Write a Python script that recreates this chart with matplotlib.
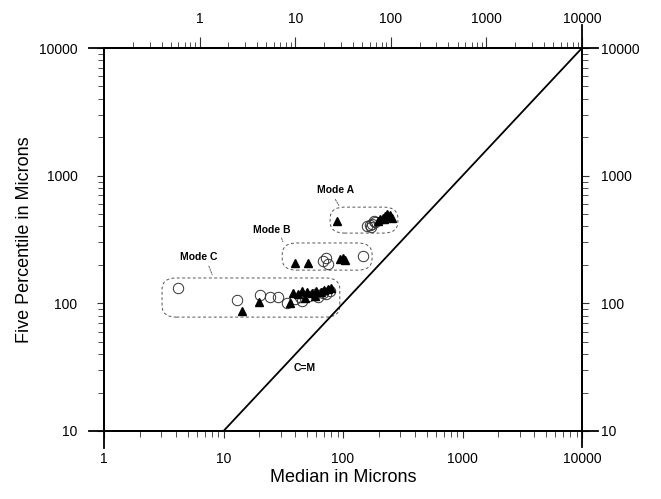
import numpy as np
import matplotlib.pyplot as plt
from matplotlib.patches import FancyBboxPatch
from matplotlib.ticker import FixedLocator, NullFormatter, LogLocator

plt.rcParams['font.family'] = ['Liberation Sans', 'DejaVu Sans']

# Mode A (coarse)
a_tri_x = [89, 195, 205, 215, 225, 235, 245, 255, 220]
a_tri_y = [440, 440, 460, 470, 480, 500, 490, 470, 455]
a_circ_x = [160, 168, 175, 185, 170, 180]
a_circ_y = [400, 410, 420, 430, 395, 440]

# Mode B
b_tri_x = [40, 51, 94, 100, 104]
b_tri_y = [207, 207, 222, 225, 220]
b_circ_x = [68, 72, 75, 147]
b_circ_y = [215, 225, 205, 234]

# Mode C (fine)
c_tri_x = [14.3, 19.8, 36, 38, 42, 45, 50, 55, 60, 65, 70, 75, 80, 48, 58]
c_tri_y = [87, 102, 100, 120, 118, 125, 122, 120, 125, 123, 128, 130, 132, 110, 115]
c_circ_x = [4.2, 13, 20.2, 24.5, 28.6, 34, 40, 44, 52, 58, 62, 68, 72, 78, 45]
c_circ_y = [132, 106, 116, 112, 112, 100, 108, 112, 115, 118, 112, 120, 118, 125, 105]

# 1:1 line
cm_x = [10, 10000]
cm_y = [10, 10000]

# dashed envelopes (x0, x1, y0, y1)
boxes = {
    'A': (78, 288, 355, 567),
    'B': (31, 175, 182, 297),
    'C': (3.06, 94, 78, 158),
}
labels = {
    'Mode A': (87, 770),
    'Mode B': (25.5, 375),
    'Mode C': (6.2, 231),
}

fig = plt.figure(figsize=(6.61, 4.99), dpi=100)
ax = fig.add_axes([104 / 661, (499 - 431) / 499, 478 / 661, 383 / 499])
ax.set_xscale('log')
ax.set_yscale('log')
ax.set_xlim(1, 10000)
ax.set_ylim(10, 10000)

ax.plot(cm_x, cm_y, color='black', lw=1.3)
ax.text(48, 31, 'C=M', fontsize=7.5, fontweight='bold', ha='center', va='center')

ax.plot(a_circ_x, a_circ_y, 'o', mfc='none', mec='#333333', mew=0.7, ms=7.5)
ax.plot(b_circ_x, b_circ_y, 'o', mfc='none', mec='#333333', mew=0.7, ms=7.5)
ax.plot(c_circ_x, c_circ_y, 'o', mfc='none', mec='#333333', mew=0.7, ms=7.5)
ax.plot(a_tri_x, a_tri_y, '^', color='black', ms=6)
ax.plot(b_tri_x, b_tri_y, '^', color='black', ms=6)
ax.plot(c_tri_x, c_tri_y, '^', color='black', ms=6)

# rounded dashed boxes, drawn in axes fraction
to_ax = ax.transData + ax.transAxes.inverted()
for key, (x0, x1, y0, y1) in boxes.items():
    (fx0, fy0), (fx1, fy1) = to_ax.transform([(x0, y0), (x1, y1)])
    p = FancyBboxPatch((fx0, fy0), fx1 - fx0, fy1 - fy0,
                       boxstyle='round,pad=0,rounding_size=0.03',
                       transform=ax.transAxes, fill=False,
                       ec='#555555', lw=0.7, ls=(0, (3, 2.5)))
    ax.add_patch(p)

for txt, (tx, ty) in labels.items():
    ax.text(tx, ty, txt, fontsize=7.5, fontweight='bold', ha='center', va='center')
# leader ticks from labels to boxes
ax.annotate('', xy=(95, 560), xytext=(84, 680),
            arrowprops=dict(arrowstyle='-', lw=0.6, ls=(0, (2, 1.5)), color='#444444'))
ax.annotate('', xy=(32, 290), xytext=(30, 340),
            arrowprops=dict(arrowstyle='-', lw=0.6, ls=(0, (2, 1.5)), color='#444444'))
ax.annotate('', xy=(8.2, 160), xytext=(7.4, 205),
            arrowprops=dict(arrowstyle='-', lw=0.6, ls=(0, (2, 1.5)), color='#444444'))

# axes styling
for s in ax.spines.values():
    s.set_linewidth(1.3)
ax.tick_params(which='both', direction='out', color='#333333', labelsize=10)
ax.tick_params(which='major', length=5, width=0.8, pad=14)
ax.tick_params(which='minor', length=4, width=0.6)
ax.xaxis.set_major_locator(FixedLocator([1, 10, 100, 1000, 10000]))
ax.set_xticklabels(['1', '10', '100', '1000', '10000'])
ax.yaxis.set_major_locator(FixedLocator([10, 100, 1000, 10000]))
ax.set_yticklabels(['10', '100', '1000', '10000'])
ax.tick_params(axis='x', which='major', pad=10)

# frame lines running past the corners
for yy in (0, 1):
    ax.plot([-0.032, 1.034], [yy, yy], transform=ax.transAxes, clip_on=False,
            color='black', lw=1.3)
ax.plot([0, 0], [-0.045, 1], transform=ax.transAxes, clip_on=False, color='black', lw=1.3)
ax.plot([1, 1], [-0.042, 1.06], transform=ax.transAxes, clip_on=False, color='black', lw=1.3)

# top axis on its own scale
def fwd(b):
    b = np.clip(np.asarray(b, dtype=float), 1e-12, None)
    return b ** 1.25 / 10

def inv(t):
    t = np.clip(np.asarray(t, dtype=float), 1e-12, None)
    return (10 * t) ** 0.8

top = ax.secondary_xaxis('top', functions=(fwd, inv))
top.set_xticks([1, 10, 100, 1000, 10000])
top.set_xticklabels(['1', '10', '100', '1000', '10000'])
top.xaxis.set_minor_locator(LogLocator(base=10, subs=np.arange(2, 10), numticks=20))
top.xaxis.set_minor_formatter(NullFormatter())
top.tick_params(which='both', direction='out', color='#333333', labelsize=10)
top.tick_params(which='major', length=8, width=0.8, pad=8)
top.tick_params(which='minor', length=4, width=0.6)
top.spines['top'].set_linewidth(1.3)

right = ax.secondary_yaxis('right')
right.set_yticks([10, 100, 1000, 10000])
right.set_yticklabels(['10', '100', '1000', '10000'])
right.tick_params(which='both', direction='out', color='#333333', labelsize=10)
right.tick_params(which='major', length=5, width=0.8, pad=9)
right.tick_params(which='minor', length=4, width=0.6)
right.spines['right'].set_linewidth(1.3)

ax.set_xlabel('Median in Microns', fontsize=13, labelpad=2)
ax.set_ylabel('Five Percentile in Microns', fontsize=13, labelpad=4)

fig.savefig('out.png', dpi=100)
